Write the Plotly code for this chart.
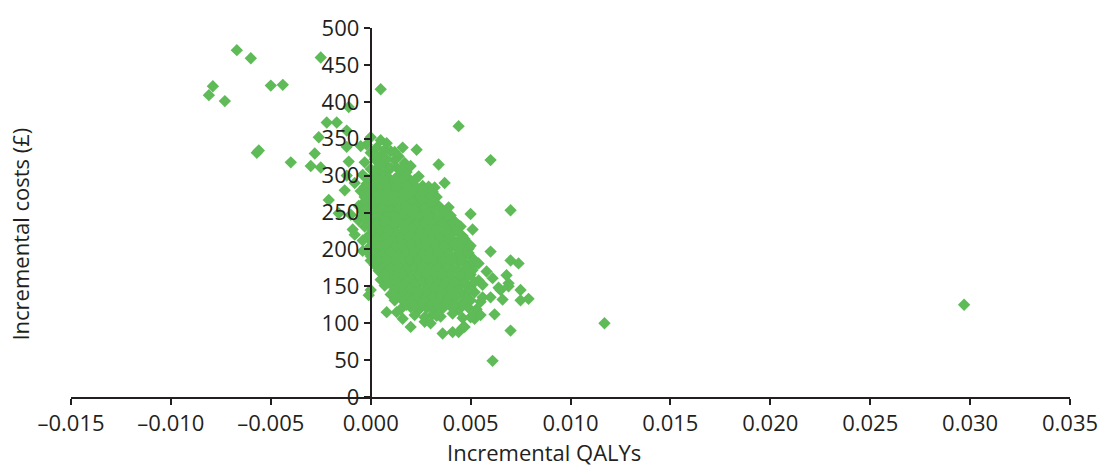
import plotly.graph_objects as go

# Probabilistic sensitivity analysis: incremental QALYs vs incremental costs (£)

# Main body of simulations, listed band by band
cluster_qalys = [
    -0.0002, 0.0003, 0.0008,
    0.0000, 0.0005, 0.0010, 0.0014,
    -0.0003, 0.0002, 0.0007, 0.0012, 0.0017,
    0.0000, 0.0004, 0.0008, 0.0013, 0.0018,
    -0.0004, 0.0001, 0.0005, 0.0009, 0.0014, 0.0019, 0.0024,
    -0.0002, 0.0002, 0.0006, 0.0010, 0.0015, 0.0020, 0.0026,
    -0.0005, 0.0000, 0.0004, 0.0008, 0.0012, 0.0016, 0.0021, 0.0027, 0.0031,
    -0.0003, 0.0002, 0.0006, 0.0010, 0.0014, 0.0018, 0.0023, 0.0028, 0.0033,
    -0.0006, -0.0001, 0.0003, 0.0007, 0.0011, 0.0015, 0.0019, 0.0024, 0.0029, 0.0034,
    -0.0004, 0.0000, 0.0004, 0.0008, 0.0012, 0.0016, 0.0020, 0.0025, 0.0030, 0.0036,
    -0.0006, -0.0002, 0.0002, 0.0006, 0.0010, 0.0014, 0.0018, 0.0022, 0.0027, 0.0032, 0.0038, 0.0042,
    -0.0003, 0.0001, 0.0005, 0.0009, 0.0013, 0.0017, 0.0021, 0.0025, 0.0029, 0.0034, 0.0039, 0.0044,
    -0.0001, 0.0003, 0.0007, 0.0011, 0.0015, 0.0019, 0.0023, 0.0027, 0.0031, 0.0036, 0.0041, 0.0046,
    0.0001, 0.0005, 0.0009, 0.0013, 0.0017, 0.0021, 0.0025, 0.0029, 0.0033, 0.0038, 0.0043, 0.0047,
    -0.0002, 0.0002, 0.0006, 0.0010, 0.0014, 0.0018, 0.0022, 0.0026, 0.0030, 0.0035, 0.0040, 0.0045, 0.0049,
    0.0000, 0.0004, 0.0008, 0.0012, 0.0016, 0.0020, 0.0024, 0.0028, 0.0032, 0.0037, 0.0042, 0.0047, 0.0051,
    0.0002, 0.0006, 0.0010, 0.0014, 0.0018, 0.0022, 0.0026, 0.0030, 0.0034, 0.0039, 0.0044, 0.0049, 0.0053,
    0.0004, 0.0008, 0.0012, 0.0016, 0.0020, 0.0024, 0.0028, 0.0032, 0.0036, 0.0041, 0.0046, 0.0051,
    0.0005, 0.0010, 0.0014, 0.0018, 0.0022, 0.0026, 0.0030, 0.0034, 0.0038, 0.0043, 0.0048, 0.0054,
    0.0007, 0.0012, 0.0016, 0.0020, 0.0024, 0.0028, 0.0032, 0.0036, 0.0040, 0.0045, 0.0050, 0.0056,
    0.0010, 0.0014, 0.0018, 0.0022, 0.0026, 0.0030, 0.0034, 0.0038, 0.0042, 0.0047, 0.0052,
    0.0012, 0.0017, 0.0021, 0.0025, 0.0029, 0.0033, 0.0037, 0.0041, 0.0046, 0.0050, 0.0055,
    0.0015, 0.0020, 0.0024, 0.0028, 0.0032, 0.0036, 0.0040, 0.0044, 0.0049, 0.0053,
    0.0022, 0.0027, 0.0031, 0.0035, 0.0041, 0.0046, 0.0051,
]
cluster_costs = [
    342, 338, 344,
    331, 327, 333, 326,
    318, 322, 316, 321, 317,
    309, 312, 306, 311, 305,
    301, 298, 303, 297, 300, 296, 299,
    289, 292, 287, 291, 288, 290, 286,
    279, 282, 277, 281, 278, 283, 276, 280, 278,
    271, 268, 272, 269, 273, 267, 270, 268, 271,
    259, 262, 258, 261, 257, 260, 263, 258, 261, 259,
    251, 248, 252, 249, 253, 247, 250, 252, 248, 251,
    239, 242, 238, 241, 237, 240, 243, 238, 241, 239, 242, 238,
    231, 228, 232, 229, 233, 227, 230, 232, 228, 231, 229, 232,
    219, 222, 218, 221, 217, 220, 223, 218, 221, 219, 222, 218,
    211, 208, 212, 209, 213, 207, 210, 212, 208, 211, 209, 212,
    199, 202, 198, 201, 197, 200, 203, 198, 201, 199, 202, 198, 201,
    191, 188, 192, 189, 193, 187, 190, 192, 188, 191, 189, 192, 188,
    179, 182, 178, 181, 177, 180, 183, 178, 181, 179, 182, 178, 181,
    171, 168, 172, 169, 173, 167, 170, 172, 168, 171, 169, 172,
    159, 162, 158, 161, 157, 160, 163, 158, 161, 159, 162, 158,
    151, 148, 152, 149, 153, 147, 150, 152, 148, 151, 149, 152,
    139, 142, 138, 141, 137, 140, 143, 138, 141, 139, 142,
    131, 128, 132, 129, 133, 127, 130, 132, 128, 131, 129,
    119, 122, 118, 121, 117, 120, 123, 118, 121, 119,
    111, 108, 112, 109, 113, 107, 110,
]

# Simulations lying between the bands of the main body
infill_qalys = [
    0.0003, 0.0008, 0.0005, 0.0010, 0.0002, 0.0015, 0.0007,
    -0.0001, 0.0003, 0.0007, 0.0012, 0.0017, 0.0022,
    -0.0003, 0.0001, 0.0005, 0.0009, 0.0013, 0.0018, 0.0023, 0.0029,
    -0.0001, 0.0004, 0.0008, 0.0012, 0.0016, 0.0020, 0.0025, 0.0030,
    -0.0003, 0.0001, 0.0005, 0.0009, 0.0013, 0.0017, 0.0021, 0.0026, 0.0031,
    -0.0002, 0.0002, 0.0006, 0.0010, 0.0014, 0.0018, 0.0022, 0.0027, 0.0032,
    -0.0004, 0.0000, 0.0004, 0.0008, 0.0012, 0.0016, 0.0020, 0.0024, 0.0029, 0.0034, 0.0040,
    -0.0001, 0.0003, 0.0007, 0.0011, 0.0015, 0.0019, 0.0023, 0.0027, 0.0031, 0.0036, 0.0041,
    0.0001, 0.0005, 0.0009, 0.0013, 0.0017, 0.0021, 0.0025, 0.0029, 0.0033, 0.0038, 0.0043,
    -0.0001, 0.0003, 0.0007, 0.0011, 0.0015, 0.0019, 0.0023, 0.0027, 0.0031, 0.0035, 0.0040, 0.0045,
    0.0000, 0.0004, 0.0008, 0.0012, 0.0016, 0.0020, 0.0024, 0.0028, 0.0032, 0.0037, 0.0042, 0.0047,
    0.0002, 0.0006, 0.0010, 0.0014, 0.0018, 0.0022, 0.0026, 0.0030, 0.0034, 0.0039, 0.0044, 0.0049,
    0.0000, 0.0004, 0.0008, 0.0012, 0.0016, 0.0020, 0.0024, 0.0028, 0.0032, 0.0036, 0.0041, 0.0046, 0.0051,
    0.0006, 0.0010, 0.0014, 0.0018, 0.0022, 0.0026, 0.0030, 0.0034, 0.0038, 0.0043, 0.0048,
    0.0007, 0.0012, 0.0016, 0.0020, 0.0024, 0.0028, 0.0032, 0.0036, 0.0040, 0.0045, 0.0050,
    0.0009, 0.0014, 0.0018, 0.0022, 0.0026, 0.0030, 0.0034, 0.0038, 0.0042, 0.0047, 0.0052,
    0.0012, 0.0016, 0.0020, 0.0024, 0.0028, 0.0032, 0.0036, 0.0040, 0.0044, 0.0049,
    0.0015, 0.0019, 0.0023, 0.0027, 0.0031, 0.0035, 0.0039, 0.0043, 0.0048,
    0.0018, 0.0022, 0.0026, 0.0030, 0.0034, 0.0038, 0.0042, 0.0047,
]
infill_costs = [
    325, 322, 315, 310, 305, 308, 335,
    294, 296, 293, 295, 297, 294,
    285, 284, 286, 283, 285, 287, 284, 285,
    275, 274, 276, 273, 275, 277, 274, 276,
    265, 264, 266, 263, 265, 267, 264, 266, 265,
    255, 254, 256, 253, 255, 257, 254, 256, 255,
    245, 244, 246, 243, 245, 247, 244, 246, 245, 244, 246,
    235, 234, 236, 233, 235, 237, 234, 236, 235, 234, 236,
    225, 224, 226, 223, 225, 227, 224, 226, 225, 224, 226,
    215, 214, 216, 213, 215, 217, 214, 216, 215, 214, 216, 215,
    205, 204, 206, 203, 205, 207, 204, 206, 205, 204, 206, 205,
    195, 194, 196, 193, 195, 197, 194, 196, 195, 194, 196, 195,
    185, 184, 186, 183, 185, 187, 184, 186, 185, 184, 186, 185, 184,
    175, 174, 176, 173, 175, 177, 174, 176, 175, 174, 176,
    165, 164, 166, 163, 165, 167, 164, 166, 165, 164, 166,
    155, 154, 156, 153, 155, 157, 154, 156, 155, 154, 156,
    145, 144, 146, 143, 145, 147, 144, 146, 145, 144,
    135, 134, 136, 133, 135, 137, 134, 136, 135,
    125, 124, 126, 123, 125, 127, 124, 126,
]

# Scattered simulations around the main body
scatter_qalys = [
    -0.0067, -0.0060, -0.0025, -0.0079, -0.0081, -0.0073, -0.0050, -0.0044,
    -0.0057, -0.0056, -0.0040, -0.0022, -0.0017, -0.0026, -0.0011, -0.0028,
    -0.0030, -0.0025, -0.0021,
    -0.0012, -0.0012, -0.0005, -0.0011, -0.0012, -0.0008, -0.0013, -0.0016,
    -0.0009, -0.0008, -0.0004, -0.0010, 0.0000, -0.0001, -0.0004,
    0.0005, 0.0000, 0.0012, 0.0016, 0.0023, 0.0020, 0.0034, 0.0037, 0.0032,
    0.0026, 0.0031, 0.0039, 0.0050, 0.0051, 0.0044, 0.0060, 0.0070, 0.0005,
    0.0045, 0.0047, 0.0050,
    0.0060, 0.0070, 0.0074, 0.0054, 0.0058, 0.0061, 0.0068, 0.0069, 0.0075,
    0.0064, 0.0050, 0.0056, 0.0060, 0.0066, 0.0065, 0.0069, 0.0075, 0.0079,
    0.0008, 0.0013, 0.0016, 0.0020, 0.0027, 0.0036, 0.0041, 0.0044, 0.0046,
    0.0047, 0.0052, 0.0055, 0.0062, 0.0070, 0.0061, 0.0117, 0.0297, 0.0030,
    0.0033, 0.0050,
]
scatter_costs = [
    470, 459, 460, 421, 409, 401, 422, 423,
    331, 334, 318, 372, 372, 352, 393, 330,
    313, 311, 267,
    361, 339, 340, 319, 300, 290, 280, 249,
    227, 220, 198, 247, 145, 138, 212,
    348, 352, 332, 338, 335, 313, 315, 290, 284,
    278, 265, 257, 248, 227, 367, 321, 253, 417,
    231, 214, 205,
    197, 185, 181, 181, 170, 161, 165, 154, 145,
    148, 145, 135, 135, 132, 145, 150, 131, 133,
    115, 115, 106, 95, 102, 86, 88, 88, 94,
    95, 106, 111, 112, 90, 49, 100, 125, 100,
    110, 108,
]

x_ticks = [-0.015, -0.010, -0.005, 0.000, 0.005, 0.010, 0.015, 0.020, 0.025, 0.030, 0.035]
x_tick_labels = ["–0.015", "–0.010", "–0.005", "0.000", "0.005", "0.010",
                 "0.015", "0.020", "0.025", "0.030", "0.035"]
y_ticks = [0, 50, 100, 150, 200, 250, 300, 350, 400, 450, 500]

assert len(cluster_qalys) == len(cluster_costs)
assert len(infill_qalys) == len(infill_costs)
assert len(scatter_qalys) == len(scatter_costs)

qalys = cluster_qalys + infill_qalys + scatter_qalys
costs = cluster_costs + infill_costs + scatter_costs

GREEN = "rgb(94,187,87)"
INK = "#231f20"
FONT = "Open Sans"
FSIZE = 22

fig = go.Figure(
    go.Scatter(
        x=qalys,
        y=costs,
        mode="markers",
        marker=dict(symbol="diamond", size=9.5, color=GREEN, line=dict(width=0)),
        hoverinfo="x+y",
    )
)

x_min, x_max = -0.015, 0.035

fig.update_layout(
    width=1110,
    height=466,
    margin=dict(l=71, r=37, t=18, b=69),
    paper_bgcolor="white",
    plot_bgcolor="white",
    showlegend=False,
    font=dict(family=FONT, size=FSIZE, color=INK),
    xaxis=dict(
        range=[x_min, x_max],
        tickvals=x_ticks,
        ticktext=x_tick_labels,
        showgrid=False,
        zeroline=False,
        showline=True,
        linecolor=INK,
        linewidth=2,
        ticks="outside",
        ticklen=6,
        tickwidth=2,
        tickcolor=INK,
        tickfont=dict(family=FONT, size=FSIZE, color=INK),
    ),
    yaxis=dict(
        range=[0, 500],
        tickvals=y_ticks,
        showgrid=False,
        zeroline=False,
        showline=True,
        linecolor=INK,
        linewidth=2,
        ticks="outside",
        ticklen=6,
        tickwidth=2,
        tickcolor=INK,
        anchor="free",
        position=(0 - x_min) / (x_max - x_min),
        tickfont=dict(family=FONT, size=FSIZE, color=INK),
    ),
    annotations=[
        dict(
            text="Incremental QALYs",
            xref="paper", yref="paper",
            x=(545 - 71) / 1002, y=(397 - 453) / 379,
            xanchor="center", yanchor="middle",
            showarrow=False,
            font=dict(family=FONT, size=FSIZE, color=INK),
        ),
        dict(
            text="Incremental costs (£)",
            xref="paper", yref="paper",
            x=(20 - 71) / 1002, y=(397 - 230) / 379,
            xanchor="center", yanchor="middle",
            textangle=-90,
            showarrow=False,
            font=dict(family=FONT, size=FSIZE, color=INK),
        ),
    ],
)

fig.write_html("out.html")
